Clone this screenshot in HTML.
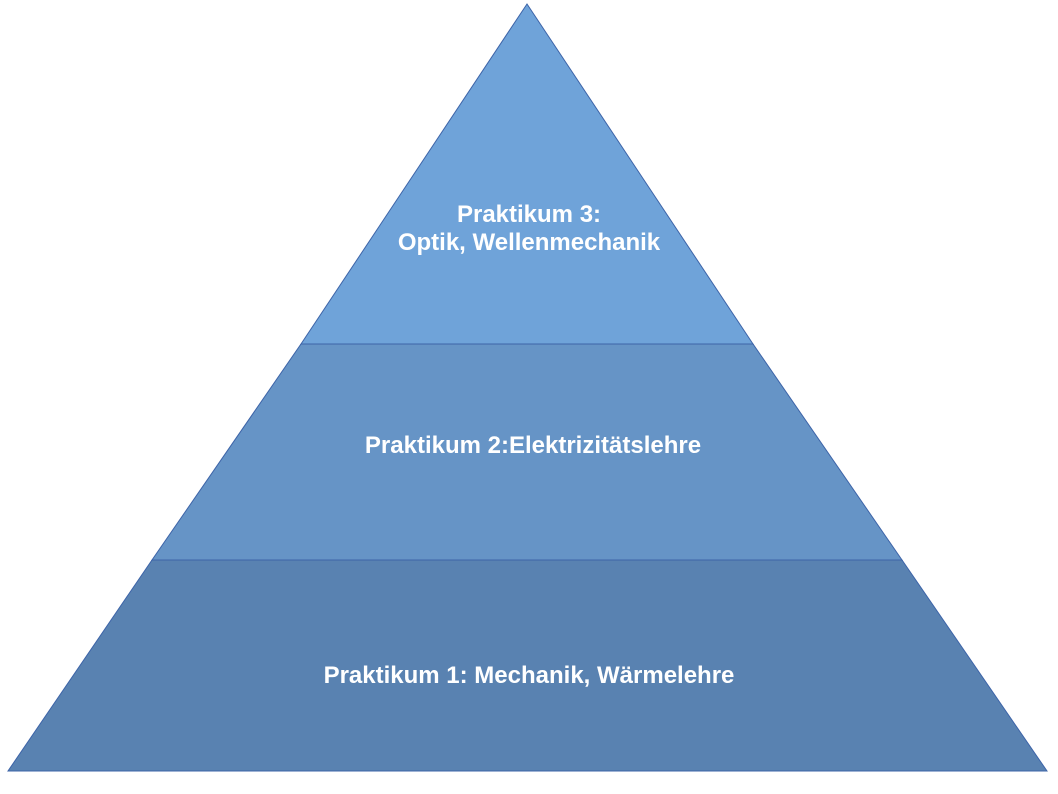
<!DOCTYPE html>
<html><head><style>
html,body{margin:0;padding:0;background:#fff;width:1058px;height:794px;overflow:hidden}
svg text{font-family:"Liberation Sans",sans-serif;font-weight:bold;font-size:24px;fill:#fff}
</style></head><body>
<svg width="1058" height="794" viewBox="0 0 1058 794">
<polygon points="527,4 753,344 301,344" fill="#6fa3d9" stroke="#3d64a8" stroke-width="1"/>
<polygon points="301,344 753,344 902,560 152,560" fill="#6694c6" stroke="#3d64a8" stroke-width="1"/>
<polygon points="152,560 902,560 1047,771 8,771" fill="#5982b1" stroke="#3d64a8" stroke-width="1"/>
<text x="529" y="222" text-anchor="middle">Praktikum 3:</text>
<text x="529" y="250" text-anchor="middle">Optik, Wellenmechanik</text>
<text x="533" y="453" text-anchor="middle">Praktikum 2:Elektrizitätslehre</text>
<text x="529" y="683" text-anchor="middle">Praktikum 1: Mechanik, Wärmelehre</text>
</svg>
</body></html>
